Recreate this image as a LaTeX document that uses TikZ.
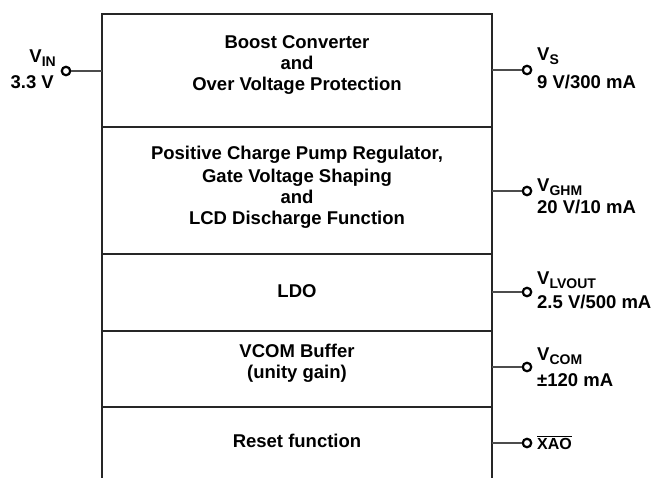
\documentclass[tikz,border=0pt]{standalone}
\usepackage{fontspec}
\setmainfont{Liberation Sans}
\newcommand\mysub[1]{\raisebox{-0.5ex}{\fontsize{14}{14}\selectfont #1}}
\begin{document}
\begin{tikzpicture}[x=1pt,y=-1pt,
  frame/.style={line width=2.8pt, draw=black!85},
  wire/.style={line width=1.3pt, draw=black!70},
  term/.style={circle, draw=black, line width=2.2pt, minimum size=8.5pt, inner sep=0pt, fill=white},
  blk/.style={font=\bfseries\fontsize{18.5}{21}\selectfont, align=center},
  lab/.style={font=\bfseries\fontsize{18.5}{20}\selectfont, inner sep=0pt}]
\useasboundingbox (0,0) rectangle (653,477);
% frame
\coordinate (TL) at (102,14);
\coordinate (TR) at (492,14);
\coordinate (BL) at (102,478);
\coordinate (BR) at (492,478);
\draw[frame] (BL) -- (TL) -- (TR) -- (BR);
\foreach \y in {127,254,331,407} \draw[frame] (102,\y) -- (492,\y);
% blocks
\node[blk] (b1) at (297,65) {Boost Converter\\and\\Over Voltage Protection};
\node[blk] (b2) at (297,187) {Positive Charge Pump Regulator,\\[2pt]Gate Voltage Shaping\\and\\LCD Discharge Function};
\node[blk] (b3) at (297,291) {LDO};
\node[blk] (b4) at (297,363) {VCOM Buffer\\(unity gain)};
\node[blk] (b5) at (297,441) {Reset function};
% terminals
\node[term] (tin) at (66,71) {};
\coordinate (ein) at (102,71);
\draw[wire] (tin) -- (ein);
\foreach \n/\y in {s/70, ghm/191, lv/292, com/367, xao/443}{
  \node[term] (t\n) at (527,\y) {};
  \coordinate (e\n) at (492,\y);
  \draw[wire] (e\n) -- (t\n);
}
% labels
\node[lab, anchor=base east] (lin1) at (56,62) {V\mysub{IN}};
\node[lab, anchor=base east] (lin2) at (54,88) {3.3 V};
\node[lab, anchor=base west] (ls1) at (537,60) {V\mysub{S}};
\node[lab, anchor=base west] (ls2) at (537,88) {9 V/300 mA};
\node[lab, anchor=base west] (lg1) at (537,191) {V\mysub{GHM}};
\node[lab, anchor=base west] (lg2) at (537,213) {20 V/10 mA};
\node[lab, anchor=base west] (ll1) at (537,284) {V\mysub{LVOUT}};
\node[lab, anchor=base west] (ll2) at (537,308) {2.5 V/500 mA};
\node[lab, anchor=base west] (lc1) at (537,360) {V\mysub{COM}};
\node[lab, anchor=base west] (lc2) at (537,386) {±120 mA};
\node[lab, anchor=base west, font=\bfseries\fontsize{16}{16}\selectfont] (lx) at (537,449) {$\overline{\hbox{XAO}}$};
\end{tikzpicture}
\end{document}
